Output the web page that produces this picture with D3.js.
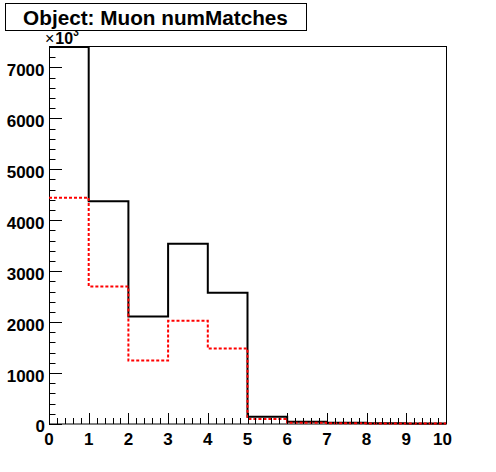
<!DOCTYPE html>
<html><head><meta charset="utf-8">
<script src="https://cdn.jsdelivr.net/npm/d3@7"></script>
<style>body{margin:0;background:#fff;} svg{display:block;} text{font-family:"Liberation Sans",Arial,Helvetica,sans-serif;font-weight:bold;}</style>
</head><body>
<svg id="c" width="496" height="472"></svg>
<script>
const binEdges = [0,1,2,3,4,5,6,7,8,9,10];
const blackValues = [7400, 4370, 2110, 3540, 2575, 144, 45, 25, 15, 10];
const redValues = [4440, 2700, 1245, 2025, 1480, 100, 25, 15, 10, 8];
const yTicks = [0,1000,2000,3000,4000,5000,6000,7000];
const xTicks = [0,1,2,3,4,5,6,7,8,9,10];
const titleText = "Object: Muon numMatches";

const svg = d3.select("#c");
svg.append("rect").attr("width",496).attr("height",472).attr("fill","#fff");
const L=49, R=446, T=46.5, B=424;
const x = d3.scaleLinear().domain([0,10]).range([L,R]);
const y = d3.scaleLinear().domain([0,7410]).range([B,T]);

function stepPath(vals){
  let p = [];
  vals.forEach((v,i)=>{
    const yy = y(Math.min(v,7410));
    p.push([x(binEdges[i]),yy]);
    p.push([x(binEdges[i+1]),yy]);
  });
  return "M"+p.map(d=>d[0]+","+d[1]).join("L");
}
// frame
svg.append("rect").attr("x",L+0.5).attr("y",T).attr("width",R-L).attr("height",B-T)
  .attr("fill","none").attr("stroke","#000").attr("stroke-width",1);

// histograms
svg.append("path").attr("d",stepPath(blackValues)).attr("fill","none").attr("stroke","#000").attr("stroke-width",2);
svg.append("path").attr("d",stepPath(redValues)).attr("fill","none").attr("stroke","#ff0000").attr("stroke-width",2).attr("stroke-dasharray","3,2");

// y axis ticks
const g = svg.append("g");
for(let v=0; v<=7400; v+=200){
  const major = v%1000===0;
  g.append("line").attr("x1",L).attr("x2",L+(major?13:6.5)).attr("y1",Math.round(y(v))+0.5).attr("y2",Math.round(y(v))+0.5).attr("stroke","#000");
}
yTicks.forEach(v=>{
  g.append("text").attr("x",v===0?45:44.5).attr("y",y(v)+(v===0?8:8.5)).attr("text-anchor","end").attr("font-size",17).text(v);
});
// x axis ticks
for(let i=0;i<=50;i++){
  const v=i*0.2; const major = i%5===0;
  g.append("line").attr("y1",B).attr("y2",B-(major?11:6)).attr("x1",Math.round(x(v))+0.5).attr("x2",Math.round(x(v))+0.5).attr("stroke","#000");
}
xTicks.forEach(v=>{
  g.append("text").attr("x",x(v)-(v===10?3.5:0)).attr("y",444.5).attr("text-anchor","middle").attr("font-size",17).text(v);
});
// exponent
const ex = svg.append("text").attr("x",45).attr("y",44.3).attr("font-size",16);
ex.append("tspan").attr("font-weight","normal").text("×");
ex.append("tspan").attr("dx",1).text("10");
ex.append("tspan").attr("dy",-8).attr("font-size",10).text("3");

// title
svg.append("rect").attr("x",5.5).attr("y",3.5).attr("width",301).attr("height",27).attr("fill","#fff").attr("stroke","#000");
const t = svg.append("text").attr("x",155.5).attr("y",24.5).attr("text-anchor","middle").attr("font-size",19).text(titleText);
const w = t.node().getComputedTextLength();
t.attr("font-size", 19*265/w);
</script>
</body></html>
